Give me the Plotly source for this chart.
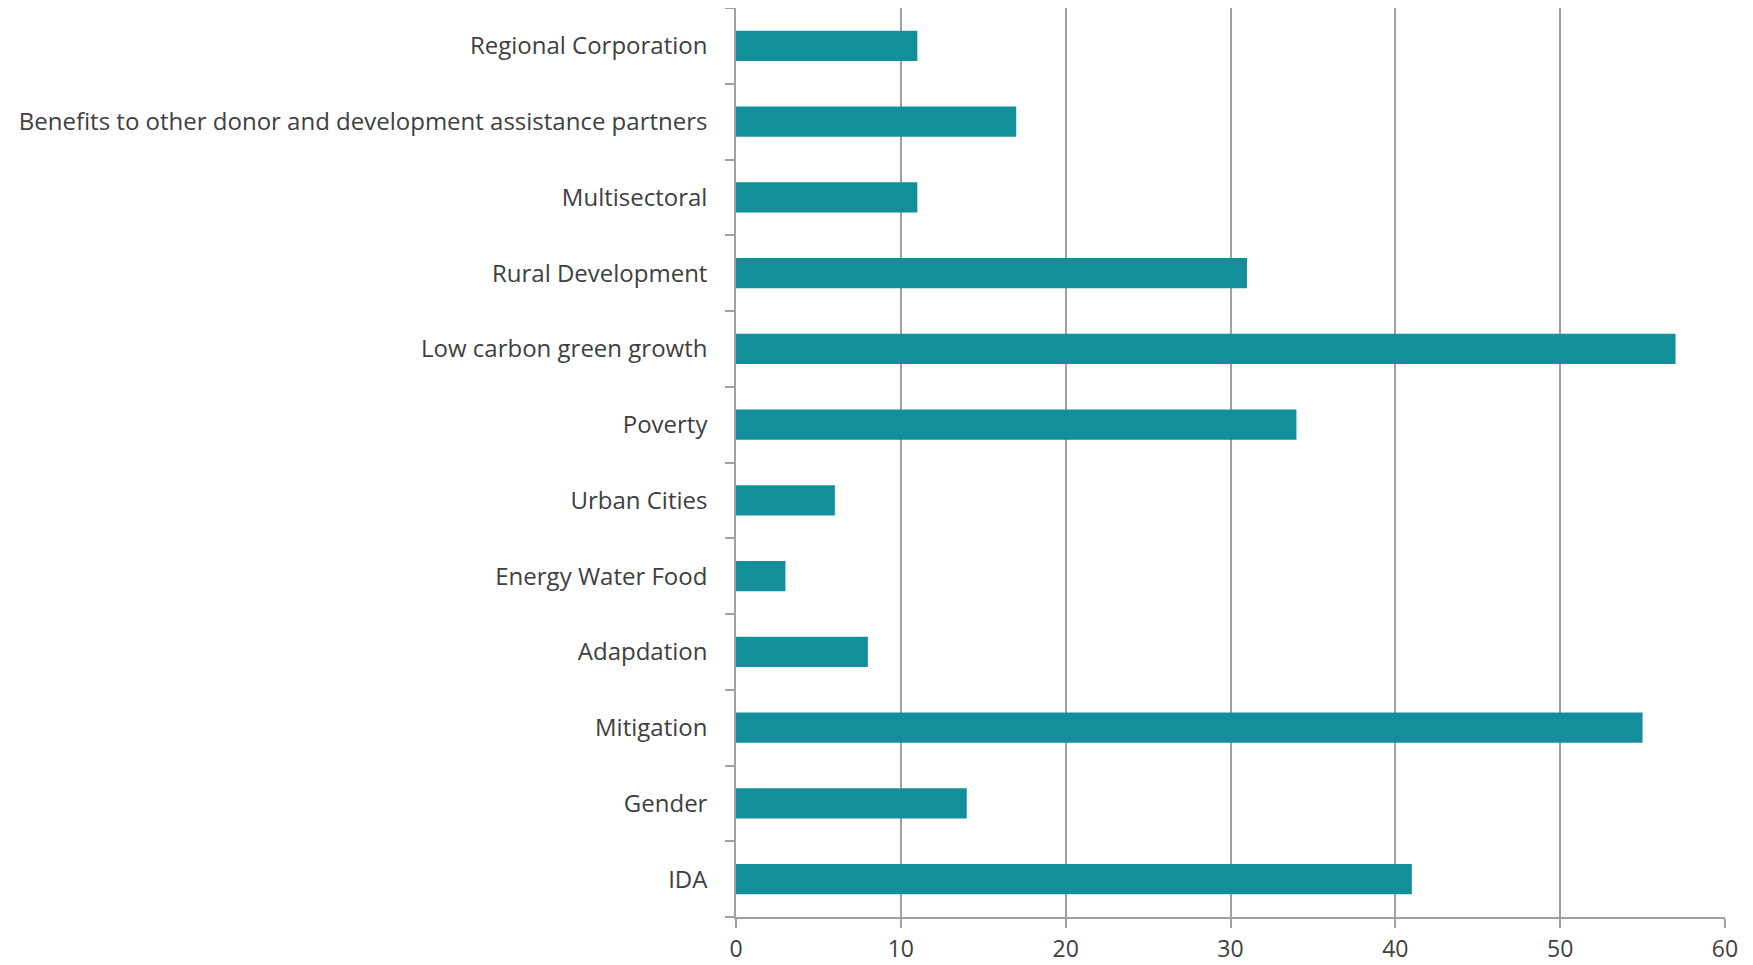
import plotly.graph_objects as go

categories = ["IDA", "Gender", "Mitigation", "Adapdation", "Energy Water Food", "Urban Cities",
              "Poverty", "Low carbon green growth", "Rural Development", "Multisectoral",
              "Benefits to other donor and development assistance partners", "Regional Corporation"]
values = [41, 14, 55, 8, 3, 6, 34, 57, 31, 11, 17, 11]
x_ticks = [0, 10, 20, 30, 40, 50, 60]

fig = go.Figure(go.Bar(
    x=values, y=categories, orientation="h",
    marker=dict(color="#138F9B", line=dict(width=0)),
    width=0.4,
))

axis_color = "#A0A0A0"
font = dict(family="Open Sans", size=24, color="#404040")
xfont = dict(family="Open Sans", size=23, color="#404040")

fig.update_layout(
    width=1745, height=957,
    margin=dict(l=728, r=28, t=0, b=48, autoexpand=False),
    paper_bgcolor="white", plot_bgcolor="white",
    showlegend=False,
    font=font,
    bargap=0.6,
)
fig.update_xaxes(
    range=[0, 60], tickvals=x_ticks, showgrid=True, gridcolor=axis_color, gridwidth=1.5,
    showline=True, linecolor=axis_color, linewidth=1.5, ticks="outside", ticklen=9,
    tickcolor=axis_color, tickwidth=1.5, zeroline=False, tickfont=xfont,
    ticklabelstandoff=2, automargin=False,
)
fig.update_yaxes(
    categoryorder="array", categoryarray=categories, range=[-0.5, 11.5],
    showgrid=False, showline=True, linecolor=axis_color, linewidth=1.5,
    ticks="outside", ticklen=9, tickcolor=axis_color, tickwidth=1.5, tickson="boundaries",
    ticklabelstandoff=22, tickfont=font, automargin=False,
)
fig.write_html("out.html")
